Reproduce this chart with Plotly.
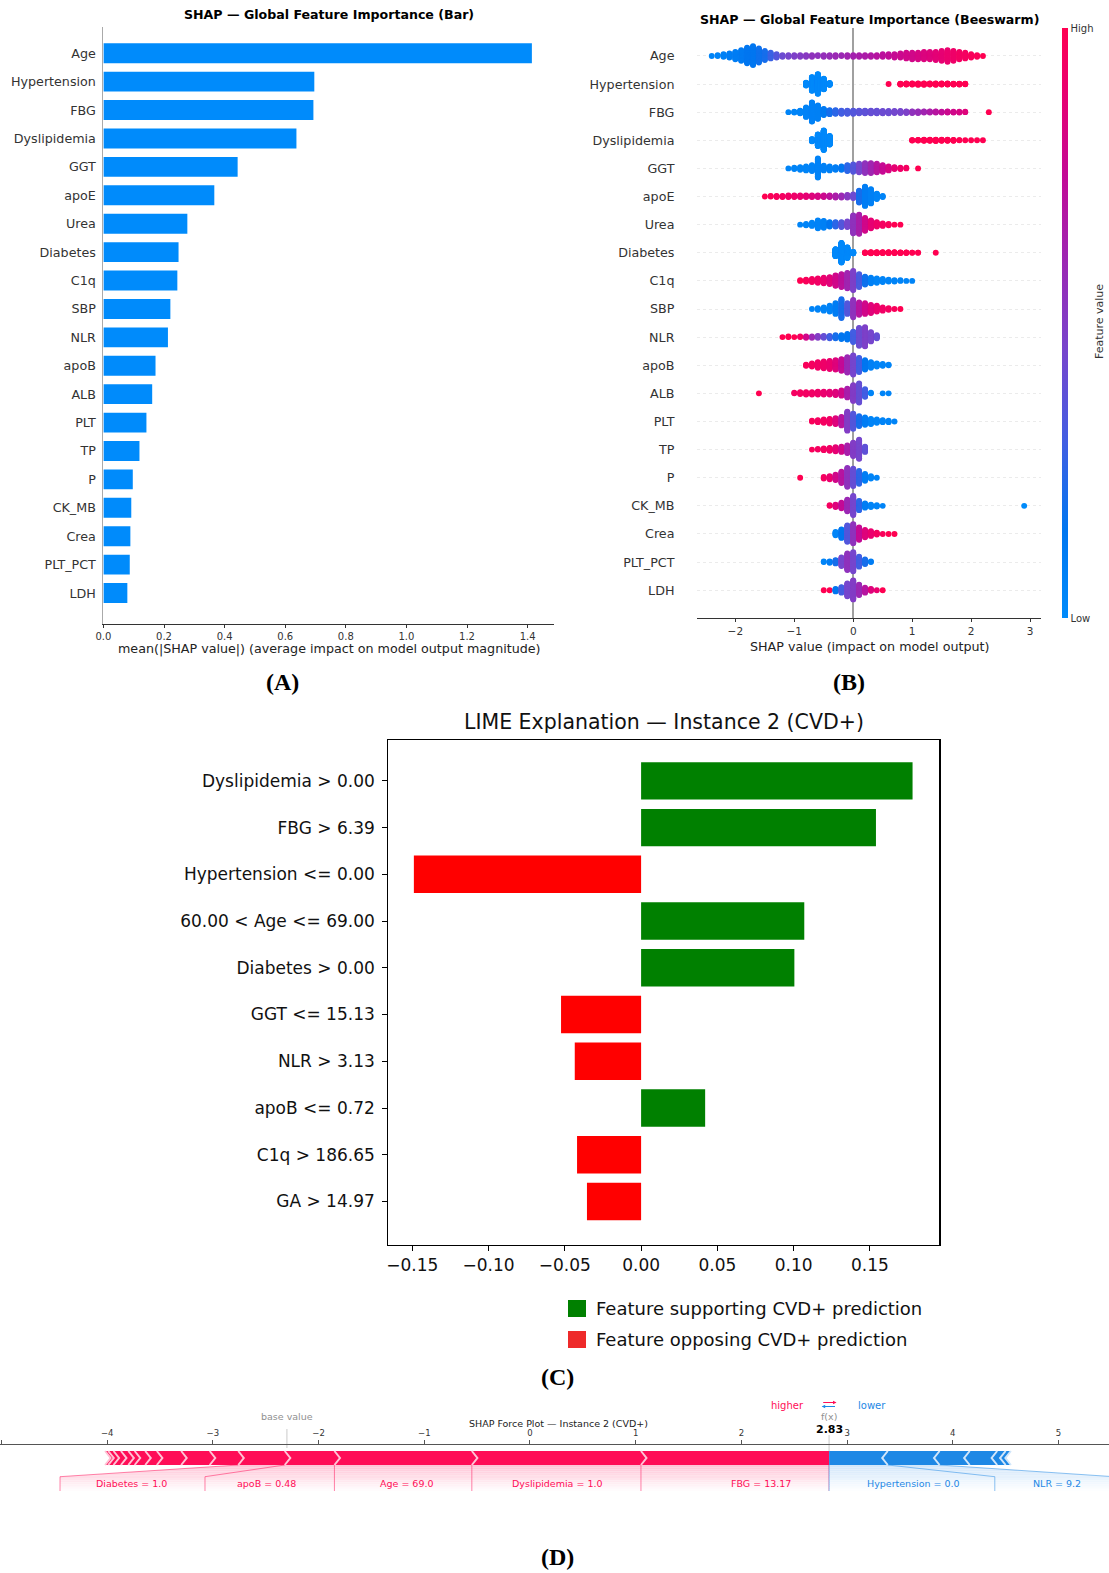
import plotly.graph_objects as go

W, H = 1109, 1573
SANS = "DejaVu Sans"
SERIF = "Liberation Serif"


def PX(x):
    return x / W


def PY(y):
    return 1 - y / H


# ---------------- Panel A : mean |SHAP| ----------------
shap_features = ["Age", "Hypertension", "FBG", "Dyslipidemia", "GGT", "apoE", "Urea",
                 "Diabetes", "C1q", "SBP", "NLR", "apoB", "ALB", "PLT", "TP", "P",
                 "CK_MB", "Crea", "PLT_PCT", "LDH"]
mean_abs_shap = [1.414, 0.696, 0.693, 0.637, 0.443, 0.366, 0.277, 0.248, 0.244, 0.221,
                 0.213, 0.172, 0.161, 0.142, 0.119, 0.097, 0.092, 0.089, 0.087, 0.079]
bar_ticks = [0.0, 0.2, 0.4, 0.6, 0.8, 1.0, 1.2, 1.4]

# ---------------- Panel B : beeswarm (histogram of SHAP values per 0.1 bin) ----------------
swarm_bin = 0.1
swarm_start = [-2.4, -0.8, -1.1, -0.7, -1.1, -1.5, -0.9, -0.3, -0.9, -0.7,
               -1.2, -0.8, -1.6, -0.7, -0.7, -0.9, -0.4, -0.3, -0.5, -0.5]
cnt_age = [1, 2, 4, 6, 10, 14, 20, 24, 18, 12, 8, 5, 3, 3, 3, 3, 3, 3, 2, 3, 3, 3, 2, 3,
           3, 3, 3, 3, 3, 4, 4, 5, 6, 8, 9, 9, 10, 10, 11, 13, 15, 13, 10, 8, 5, 3, 1]
col_age = [0.05, 0.05, 0.08, 0.1, 0.1, 0.12, 0.15, 0.15, 0.18, 0.2, 0.28, 0.35,
           0.42, 0.45, 0.48, 0.5, 0.52, 0.55, 0.55, 0.57, 0.58, 0.6, 0.6, 0.62,
           0.63, 0.65, 0.66, 0.68, 0.7, 0.72, 0.74, 0.76, 0.78, 0.8, 0.8, 0.82,
           0.84, 0.85, 0.87, 0.88, 0.9, 0.92, 0.94, 0.95, 0.97, 0.98, 1.0]
cnt_hyp = [15, 70, 100, 55, 10, 0, 0, 0, 0, 0, 0, 0, 0, 0, 1, 0,
           5, 6, 6, 7, 7, 6, 7, 6, 6, 5, 5, 4]
col_hyp = [0.02, 0.02, 0.02, 0.02, 0.02, 0, 0, 0, 0, 0, 0, 0, 0, 0, 1.0, 0,
           1.0, 1.0, 1.0, 1.0, 1.0, 1.0, 1.0, 1.0, 1.0, 1.0, 1.0, 1.0]
cnt_fbg = [1, 3, 8, 25, 50, 35, 16, 11, 10, 9, 9, 9, 8, 8, 8, 8, 7, 7, 6, 6,
           5, 5, 5, 4, 4, 4, 3, 4, 3, 3, 2, 0, 0, 0, 1]
col_fbg = [0.05, 0.05, 0.05, 0.06, 0.07, 0.08, 0.12,
           0.2, 0.25, 0.3, 0.32, 0.35, 0.37, 0.38, 0.4, 0.4, 0.42, 0.42, 0.44, 0.45, 0.48,
           0.55, 0.58, 0.62, 0.66, 0.7, 0.74, 0.78, 0.8, 0.82, 0.85,
           0, 0, 0, 1.0]
cnt_dys = [12, 60, 100, 45, 0, 0, 0, 0, 0, 0, 0, 0, 0, 0, 0, 0, 0,
           3, 4, 6, 6, 7, 6, 6, 5, 2, 1, 1, 1, 1]
col_dys = [0.02, 0.02, 0.02, 0.02, 0, 0, 0, 0, 0, 0, 0, 0, 0, 0, 0, 0, 0,
           1.0, 1.0, 1.0, 1.0, 1.0, 1.0, 1.0, 1.0, 1.0, 1.0, 1.0, 1.0, 1.0]
cnt_ggt = [1, 3, 5, 7, 10, 30, 8, 7, 5, 6, 10, 12, 14, 16, 16, 14, 11, 7, 4, 3, 2, 0, 1]
col_ggt = [0.05, 0.05, 0.05, 0.05, 0.06, 0.06, 0.07, 0.08, 0.1, 0.15,
           0.25, 0.35, 0.45, 0.55, 0.62, 0.7, 0.76, 0.82, 0.88, 0.92, 0.95, 0, 1.0]
cnt_apoe = [1, 2, 3, 3, 4, 4, 4, 4, 4, 4, 4, 4, 5, 5, 6, 8, 25, 40, 30, 12, 3]
col_apoe = [1.0, 0.98, 0.96, 0.95, 0.93, 0.92, 0.9, 0.88, 0.85, 0.82, 0.78, 0.72,
            0.66, 0.6, 0.52, 0.42, 0.2, 0.1, 0.08, 0.05, 0.05]
cnt_urea = [1, 3, 6, 14, 12, 8, 8, 9, 10, 30, 32, 22, 14, 8, 5, 3, 1, 1]
col_urea = [0.05, 0.05, 0.05, 0.06, 0.08, 0.15, 0.25, 0.35, 0.45, 0.55, 0.65, 0.8,
            0.88, 0.92, 0.95, 0.97, 1.0, 1.0]
cnt_diab = [40, 110, 60, 10, 0, 4, 7, 7, 6, 6, 6, 5, 4, 2, 2, 0, 0, 1]
col_diab = [0.02, 0.02, 0.02, 0.02, 0, 1.0, 1.0, 1.0, 1.0, 1.0, 1.0, 1.0, 1.0, 1.0, 1.0, 0, 0, 1.0]
cnt_c1q = [2, 4, 6, 8, 10, 12, 18, 22, 26, 32, 22, 14, 10, 8, 6, 4, 3, 2, 1, 1]
col_c1q = [1.0, 0.97, 0.95, 0.93, 0.9, 0.86, 0.8, 0.72, 0.62, 0.48, 0.32, 0.18, 0.08,
           0.05, 0.05, 0.05, 0.05, 0.05, 0.05, 0.05]
cnt_sbp = [1, 3, 5, 8, 14, 24, 14, 22, 16, 14, 11, 8, 5, 3, 1, 1]
col_sbp = [0.05, 0.05, 0.05, 0.06, 0.1, 0.2, 0.35, 0.55, 0.7, 0.8, 0.86, 0.9, 0.93,
           0.95, 0.97, 1.0]
cnt_nlr = [1, 2, 1, 2, 3, 3, 4, 4, 5, 6, 7, 10, 18, 30, 32, 16, 6]
col_nlr = [1.0, 1.0, 1.0, 0.95, 0.8, 0.6, 0.5, 0.4, 0.3, 0.2, 0.15, 0.15, 0.3, 0.42,
           0.48, 0.45, 0.4]
cnt_apob = [3, 6, 10, 12, 14, 16, 20, 26, 32, 24, 16, 10, 6, 4, 2]
col_apob = [0.97, 0.95, 0.93, 0.92, 0.9, 0.85, 0.75, 0.6, 0.45, 0.3, 0.15, 0.08, 0.05,
            0.05, 0.05]
cnt_alb = [1, 0, 0, 0, 0, 0, 2, 4, 5, 5, 6, 6, 6, 7, 10, 16, 28, 34, 14, 2, 0, 1, 1]
col_alb = [1.0, 0, 0, 0, 0, 0, 0.95, 0.95, 0.94, 0.93, 0.92, 0.9, 0.88, 0.85, 0.8,
           0.65, 0.5, 0.4, 0.3, 0.05, 0, 0.05, 0.05]
cnt_plt = [2, 4, 6, 8, 10, 14, 30, 24, 16, 12, 9, 6, 4, 3, 1]
col_plt = [0.97, 0.95, 0.95, 0.93, 0.85, 0.7, 0.5, 0.35, 0.2, 0.1, 0.05, 0.05, 0.05,
           0.05, 0.05]
cnt_tp = [1, 2, 4, 6, 8, 10, 14, 24, 34, 10]
col_tp = [0.97, 0.95, 0.95, 0.93, 0.88, 0.8, 0.65, 0.5, 0.45, 0.38]
cnt_p = [1, 0, 0, 0, 3, 5, 8, 16, 26, 24, 18, 10, 4, 1]
col_p = [1.0, 0, 0, 0, 0.95, 0.9, 0.8, 0.7, 0.55, 0.4, 0.25, 0.1, 0.05, 0.05]
cnt_ckmb = [2, 5, 10, 20, 32, 16, 8, 5, 3, 1,
            0, 0, 0, 0, 0, 0, 0, 0, 0, 0, 0, 0, 0, 0, 0, 0, 0, 0, 0, 0, 0, 0, 0, 1]
col_ckmb = [0.95, 0.85, 0.75, 0.6, 0.45, 0.25, 0.1, 0.05, 0.05, 0.05,
            0, 0, 0, 0, 0, 0, 0, 0, 0, 0, 0, 0, 0, 0, 0, 0, 0, 0, 0, 0, 0, 0, 0, 0.0]
cnt_crea = [6, 14, 26, 30, 20, 12, 8, 4, 1, 1, 1]
col_crea = [0.05, 0.15, 0.35, 0.55, 0.75, 0.85, 0.9, 0.95, 0.97, 1.0, 1.0]
cnt_pltpct = [2, 3, 6, 14, 26, 30, 16, 8, 2]
col_pltpct = [0.05, 0.1, 0.2, 0.45, 0.55, 0.45, 0.3, 0.2, 0.1]
cnt_ldh = [1, 1, 5, 10, 22, 32, 18, 9, 4, 1, 1]
col_ldh = [1.0, 1.0, 0.15, 0.3, 0.45, 0.5, 0.6, 0.7, 0.85, 0.9, 1.0]

swarm_counts = [cnt_age, cnt_hyp, cnt_fbg, cnt_dys, cnt_ggt, cnt_apoe, cnt_urea, cnt_diab,
                cnt_c1q, cnt_sbp, cnt_nlr, cnt_apob, cnt_alb, cnt_plt, cnt_tp, cnt_p,
                cnt_ckmb, cnt_crea, cnt_pltpct, cnt_ldh]
swarm_colors = [col_age, col_hyp, col_fbg, col_dys, col_ggt, col_apoe, col_urea, col_diab,
                col_c1q, col_sbp, col_nlr, col_apob, col_alb, col_plt, col_tp, col_p,
                col_ckmb, col_crea, col_pltpct, col_ldh]
swarm_ticks = [-2, -1, 0, 1, 2, 3]

# ---------------- Panel C : LIME ----------------
lime_labels = ["Dyslipidemia > 0.00", "FBG > 6.39", "Hypertension <= 0.00",
               "60.00 < Age <= 69.00", "Diabetes > 0.00", "GGT <= 15.13", "NLR > 3.13",
               "apoB <= 0.72", "C1q > 186.65", "GA > 14.97"]
lime_weights = [0.178, 0.154, -0.149, 0.107, 0.1005, -0.0525, -0.0435, 0.042, -0.042, -0.0355]
lime_legend = ["Feature supporting CVD+ prediction", "Feature opposing CVD+ prediction"]

# ---------------- Panel D : force plot ----------------
fx_value = 2.83
pos_contrib = [1.78, 1.60, 1.30, 0.47, 0.44, 0.27, 0.27, 0.23, 0.11, 0.10, 0.06, 0.07, 0.07, 0.05, 0.03]
pos_labels = ["FBG = 13.17", "Dyslipidemia = 1.0", "Age = 69.0", "apoB = 0.48", "Diabetes = 1.0",
              "", "", "", "", "", "", "", "", "", ""]
neg_contrib = [0.555, 0.49, 0.285, 0.26, 0.08, 0.05]
neg_labels = ["Hypertension = 0.0", "NLR = 9.2", "", "", "", ""]
force_ticks = [-5, -4, -3, -2, -1, 0, 1, 2, 3, 4, 5]

for c_, k_ in zip(swarm_counts, swarm_colors):
    assert len(c_) == len(k_)

SHAP_CS = [[0.0, "rgb(0,139,251)"], [0.15, "rgb(0,118,240)"], [0.3, "rgb(66,94,226)"],
           [0.45, "rgb(118,70,205)"], [0.6, "rgb(155,40,180)"], [0.75, "rgb(195,10,150)"],
           [0.9, "rgb(235,0,110)"], [1.0, "rgb(255,0,81)"]]

fig = go.Figure()
nfeat = len(shap_features)
rows = [nfeat - 1 - i for i in range(nfeat)]

# ---- A bars
fig.add_trace(go.Bar(x=mean_abs_shap, y=rows, orientation="h", width=0.7,
                     marker=dict(color="#008bfb", line=dict(width=0)),
                     xaxis="x", yaxis="y", hoverinfo="skip"))

# ---- B swarm
sx, sy, sc = [], [], []
for r, (start, cnts, cols) in enumerate(zip(swarm_start, swarm_counts, swarm_colors)):
    row = nfeat - 1 - r
    step = 0.70 / max(cnts)
    for i, (n, cval) in enumerate(zip(cnts, cols)):
        xv = round(start + swarm_bin * i, 3)
        for j in range(n):
            k = ((j + 1) // 2) * (1 if j % 2 else -1)
            sx.append(xv)
            sy.append(row + k * step)
            sc.append(cval)
fig.add_trace(go.Scatter(
    x=sx, y=sy, mode="markers", xaxis="x2", yaxis="y2", hoverinfo="skip",
    marker=dict(size=5.9, color=sc, colorscale=SHAP_CS, cmin=0, cmax=1, line=dict(width=0),
                showscale=True,
                colorbar=dict(x=PX(1062), xanchor="left", xpad=0, y=PY(28.5), yanchor="top",
                              ypad=0, len=(618 - 28.5) / H, lenmode="fraction", thickness=6,
                              outlinewidth=0, tickvals=[0, 1], ticktext=["Low", "High"],
                              ticks="", tickfont=dict(family=SANS, size=10, color="#333")))))

# ---- C LIME bars
nl = len(lime_labels)
fig.add_trace(go.Bar(x=lime_weights, y=list(range(nl)), orientation="h", width=0.8,
                     marker=dict(color=["#008000" if w > 0 else "#ff0000" for w in lime_weights],
                                 line=dict(width=0)),
                     xaxis="x3", yaxis="y3", hoverinfo="skip"))

# ---- D force plot
FX_RANGE = [-5.014, 5.478]
BAR_LO, BAR_HI = 35.0, 49.0
MID = (BAR_LO + BAR_HI) / 2
LBL_TOP, LBL_BOT, TXT_Y = 23.3, 9.0, 17.0
indent = (FX_RANGE[1] - FX_RANGE[0]) / 200
total_pos = sum(pos_contrib)
total_neg = sum(neg_contrib)
total_effect = total_pos + total_neg
base_value = fx_value - total_pos + total_neg
offset_text = total_effect * 0.04
char_w = 0.049
RED, RED_L = "#FF0D57", "#FFC3D5"
BLUE, BLUE_L = "#1E88E5", "#D1E6FA"
NSTRIP = 12


def hex_rgb(c):
    return tuple(int(c[i:i + 2], 16) for i in (1, 3, 5))


def poly(pts, color):
    xs = [p[0] for p in pts] + [pts[0][0]]
    ys = [p[1] for p in pts] + [pts[0][1]]
    return go.Scatter(x=xs, y=ys, mode="lines", fill="toself", fillcolor=color,
                      line=dict(width=0, color=color), xaxis="x4", yaxis="y4", hoverinfo="skip")


def layout_labels(contribs, labels, sign):
    out = []
    start_text = fx_value
    pre_val = fx_value
    for c, lab in zip(contribs, labels):
        val = pre_val - sign * c
        if c / total_effect < 0.05:
            break
        anchor = start_text - sign * offset_text
        box_end_ = anchor - sign * len(lab) * char_w
        if sign * box_end_ > sign * val:
            box_end, slanted = val, False
        else:
            box_end, slanted = box_end_ - sign * offset_text, True
        out.append(dict(val=val, pre_val=pre_val, box_end=box_end, prev_box=start_text,
                        anchor=anchor, text=lab, slanted=slanted))
        start_text = box_end
        pre_val = val
    return out


def edge_x(y, top_x, low_x):
    if y >= LBL_TOP:
        t = (BAR_LO - y) / (BAR_LO - LBL_TOP)
        return top_x + t * (low_x - top_x)
    return low_x


annotations = []
for sign, contribs, labels, col, col_l in [(1, pos_contrib, pos_labels, RED, RED_L),
                                           (-1, neg_contrib, neg_labels, BLUE, BLUE_L)]:
    laid = layout_labels(contribs, labels, sign)
    rgb = hex_rgb(col)
    rgb_l = hex_rgb(col_l)
    # fading shading below the bar, drawn as horizontal strips
    levels = [BAR_LO - (BAR_LO - LBL_BOT) * i / NSTRIP for i in range(NSTRIP + 1)]
    for s in range(NSTRIP):
        y1, y2 = levels[s], levels[s + 1]
        f = 1 - (s + 0.5) / NSTRIP
        fc = "rgb(%d,%d,%d)" % tuple(round(255 + (cv - 255) * f) for cv in rgb_l)
        xs, ys = [], []
        for L in laid:
            ys_edge = [y1] + ([LBL_TOP] if y2 < LBL_TOP < y1 else []) + [y2]
            a = [(edge_x(y, L["val"], L["box_end"]), y) for y in ys_edge]
            b = [(edge_x(y, L["pre_val"], L["prev_box"]), y) for y in reversed(ys_edge)]
            pts = a + b + [a[0]]
            xs += [p[0] for p in pts] + [None]
            ys += [p[1] for p in pts] + [None]
        fig.add_trace(go.Scatter(x=xs, y=ys, mode="lines", fill="toself", fillcolor=fc,
                                 line=dict(width=0, color=fc), xaxis="x4", yaxis="y4",
                                 hoverinfo="skip"))
    line_col = "rgba(%d,%d,%d,0.5)" % rgb
    lx, ly = [fx_value, fx_value, None], [BAR_LO, LBL_BOT, None]
    for L in laid:
        if L["slanted"]:
            lx += [L["val"], L["box_end"], L["box_end"], None]
            ly += [BAR_LO, LBL_TOP, LBL_BOT, None]
        else:
            lx += [L["val"], L["val"], None]
            ly += [BAR_LO, LBL_BOT, None]
        annotations.append(dict(x=L["anchor"], y=TXT_Y, xref="x4", yref="y4", text=L["text"],
                                showarrow=False, xanchor="right" if sign > 0 else "left",
                                yanchor="middle",
                                font=dict(family=SANS, size=9.5, color=col)))
    fig.add_trace(go.Scatter(x=lx, y=ly, mode="lines", line=dict(color=line_col, width=1),
                             xaxis="x4", yaxis="y4", hoverinfo="skip"))

    # bars and separators
    pre = fx_value
    sep_x, sep_y = [], []
    ind = sign * indent
    for i, c in enumerate(contribs):
        if sign > 0:
            left, right = pre - c, pre
            pre = left
            spos = left
        else:
            left, right = pre, pre + c
            pre = right
            spos = right
        if i == 0:
            if sign > 0:
                pts = [(left, BAR_LO), (right, BAR_LO), (right, BAR_HI), (left, BAR_HI),
                       (left + ind, MID)]
            else:
                pts = [(right, BAR_LO), (left, BAR_LO), (left, BAR_HI), (right, BAR_HI),
                       (right + ind, MID)]
        else:
            pts = [(left, BAR_LO), (right, BAR_LO), (right + ind * 0.9, MID), (right, BAR_HI),
                   (left, BAR_HI), (left + ind * 0.9, MID)]
        fig.add_trace(poly(pts, col))
        sep_x += [spos, spos + ind, spos, None]
        sep_y += [BAR_LO, MID, BAR_HI, None]
    fig.add_trace(go.Scatter(x=sep_x, y=sep_y, mode="lines", line=dict(color=col_l, width=2),
                             xaxis="x4", yaxis="y4", hoverinfo="skip"))

# grey markers for base value and f(x)
fig.add_trace(go.Scatter(x=[base_value, base_value, None, fx_value, fx_value],
                         y=[52, 71, None, BAR_HI, 65], mode="lines",
                         line=dict(color="#dcdcdc", width=1.5), xaxis="x4", yaxis="y4",
                         hoverinfo="skip"))


# ---------------- annotations ----------------
def ann(x, y, text, size, color="#000", bold=False, family=SANS, xanchor="center", **kw):
    d = dict(x=x, y=y, xref="paper", yref="paper", text=("<b>%s</b>" % text) if bold else text,
             showarrow=False, xanchor=xanchor, yanchor="middle",
             font=dict(family=family, size=size, color=color))
    d.update(kw)
    return d


annotations += [
    ann(PX(329), PY(15), "SHAP — Global Feature Importance (Bar)", 12.6, bold=True),
    ann(PX(329), PY(649), "mean(|SHAP value|) (average impact on model output magnitude)", 12.7, "#222"),
    ann(PX(282), PY(682), "(A)", 24, bold=True, family=SERIF),
    ann(PX(869), PY(19), "SHAP — Global Feature Importance (Beeswarm)", 12.6, bold=True),
    ann(PX(869), PY(646), "SHAP value (impact on model output)", 12.7, "#222"),
    ann(PX(1099), PY(322), "Feature value", 11, "#333", textangle=-90),
    ann(PX(849), PY(682), "(B)", 24, bold=True, family=SERIF),
    ann(PX(663.5), PY(721.5), "LIME Explanation — Instance 2 (CVD+)", 20.5, "#111"),
    ann(PX(594), PY(1308.5), lime_legend[0], 18, "#111", xanchor="left"),
    ann(PX(594), PY(1339.5), lime_legend[1], 18, "#111", xanchor="left"),
    ann(PX(557), PY(1377), "(C)", 24, bold=True, family=SERIF),
    ann(PX(557), PY(1557), "(D)", 24, bold=True, family=SERIF),
    dict(x=PX(558), y=77, xref="paper", yref="y4", text="SHAP Force Plot — Instance 2 (CVD+)",
         showarrow=False, font=dict(family=SANS, size=9.5, color="#222")),
    dict(x=base_value, y=84, xref="x4", yref="y4", text="base value", showarrow=False,
         font=dict(family=SANS, size=9.5, color="#909090")),
    dict(x=fx_value, y=84, xref="x4", yref="y4", text="f(x)", showarrow=False,
         font=dict(family=SANS, size=9.5, color="#909090")),
    dict(x=fx_value, y=71, xref="x4", yref="y4", text="<b>%.2f</b>" % fx_value, showarrow=False,
         font=dict(family=SANS, size=11, color="#000")),
    dict(x=fx_value - 0.22, y=95, xref="x4", yref="y4", text="higher", showarrow=False,
         xanchor="right", font=dict(family=SANS, size=10, color=RED)),
    dict(x=fx_value + 0.25, y=95, xref="x4", yref="y4", text="lower", showarrow=False,
         xanchor="left", font=dict(family=SANS, size=10, color=BLUE)),
    dict(x=fx_value + 0.07, y=97.5, ax=fx_value - 0.07, ay=97.5, xref="x4", yref="y4",
         axref="x4", ayref="y4", text="", showarrow=True, arrowhead=2, arrowsize=0.7,
         arrowwidth=1, arrowcolor=RED),
    dict(x=fx_value - 0.07, y=93.5, ax=fx_value + 0.07, ay=93.5, xref="x4", yref="y4",
         axref="x4", ayref="y4", text="", showarrow=True, arrowhead=2, arrowsize=0.7,
         arrowwidth=1, arrowcolor=BLUE),
]

shapes = [
    dict(type="rect", xref="paper", yref="paper", x0=PX(568), x1=PX(586), y0=PY(1317), y1=PY(1300),
         fillcolor="#008000", line=dict(width=0)),
    dict(type="rect", xref="paper", yref="paper", x0=PX(568), x1=PX(586), y0=PY(1348), y1=PY(1331),
         fillcolor="#ee2a2a", line=dict(width=0)),
]

esc = lambda s: s.replace("<", "&lt;").replace(">", "&gt;")

fig.update_layout(
    width=W, height=H, margin=dict(l=0, r=0, t=0, b=0, autoexpand=False),
    paper_bgcolor="white", plot_bgcolor="white", showlegend=False,
    font=dict(family=SANS),
    annotations=annotations, shapes=shapes,
    xaxis=dict(domain=[PX(103.4), PX(554)], range=[0, 1.487], anchor="y",
               showline=True, linecolor="#333", linewidth=1, ticks="outside", ticklen=3,
               tickcolor="#333", tickvals=bar_ticks, tickformat=".1f",
               tickfont=dict(family=SANS, size=10, color="#333"), showgrid=False, zeroline=False),
    yaxis=dict(domain=[PY(624.3), PY(27.1)], range=[-1.10, 19.92], anchor="x",
               tickvals=rows, ticktext=shap_features, showline=True, linecolor="#aaa",
               ticks="outside", ticklen=4, tickcolor="rgba(0,0,0,0)",
               tickfont=dict(family=SANS, size=12.7, color="#333"), showgrid=False, zeroline=False),
    xaxis2=dict(domain=[PX(697), PX(1040.7)], range=[-2.65, 3.18], anchor="y2",
                showline=True, linecolor="#333", linewidth=1, ticks="outside", ticklen=3,
                tickcolor="#333", tickvals=swarm_ticks,
                tickfont=dict(family=SANS, size=10.5, color="#333"), showgrid=False,
                zeroline=True, zerolinecolor="#a0a0a0", zerolinewidth=1.5, layer="below traces"),
    yaxis2=dict(domain=[PY(618.3), PY(28.1)], range=[-1.0, 19.99], anchor="x2",
                tickvals=rows, ticktext=shap_features, showline=False,
                ticks="outside", ticklen=19, tickcolor="rgba(0,0,0,0)",
                tickfont=dict(family=SANS, size=12.7, color="#333"), showgrid=True,
                gridcolor="#dedede", griddash="dot", gridwidth=0.6, zeroline=False),
    xaxis3=dict(domain=[PX(388.4), PX(939.4)], range=[-0.1657, 0.1956], anchor="y3",
                showline=True, mirror=True, linecolor="#000", linewidth=1.2, ticks="outside",
                ticklen=5, tickcolor="#000", tick0=-0.15, dtick=0.05, tickformat=".2f",
                tickfont=dict(family=SANS, size=17, color="#111"), showgrid=False, zeroline=False),
    yaxis3=dict(domain=[PY(1244.5), PY(739.7)], range=[9.92, -0.88], anchor="x3",
                tickvals=list(range(nl)), ticktext=[esc(s) for s in lime_labels],
                showline=True, mirror=True, linecolor="#000", linewidth=1.2, ticks="outside",
                ticklen=5, tickcolor="#000", ticklabelstandoff=4,
                tickfont=dict(family=SANS, size=17, color="#111"), showgrid=False, zeroline=False),
    xaxis4=dict(domain=[0, 1], range=FX_RANGE, anchor="free", position=PY(1443.5), side="top",
                showline=True, linecolor="#555", linewidth=1, ticks="outside", ticklen=4,
                tickcolor="#555", tickvals=force_ticks,
                tickfont=dict(family=SANS, size=8.5, color="#333"), showgrid=False, zeroline=False),
    yaxis4=dict(domain=[PY(1500), PY(1400)], range=[0, 100], anchor="free", position=0,
                visible=False),
)

fig.write_html("out.html", config={"displayModeBar": False, "staticPlot": True},
               post_script="document.body.style.margin='0';document.body.style.padding='0';"
                           "document.body.style.overflow='hidden';")
